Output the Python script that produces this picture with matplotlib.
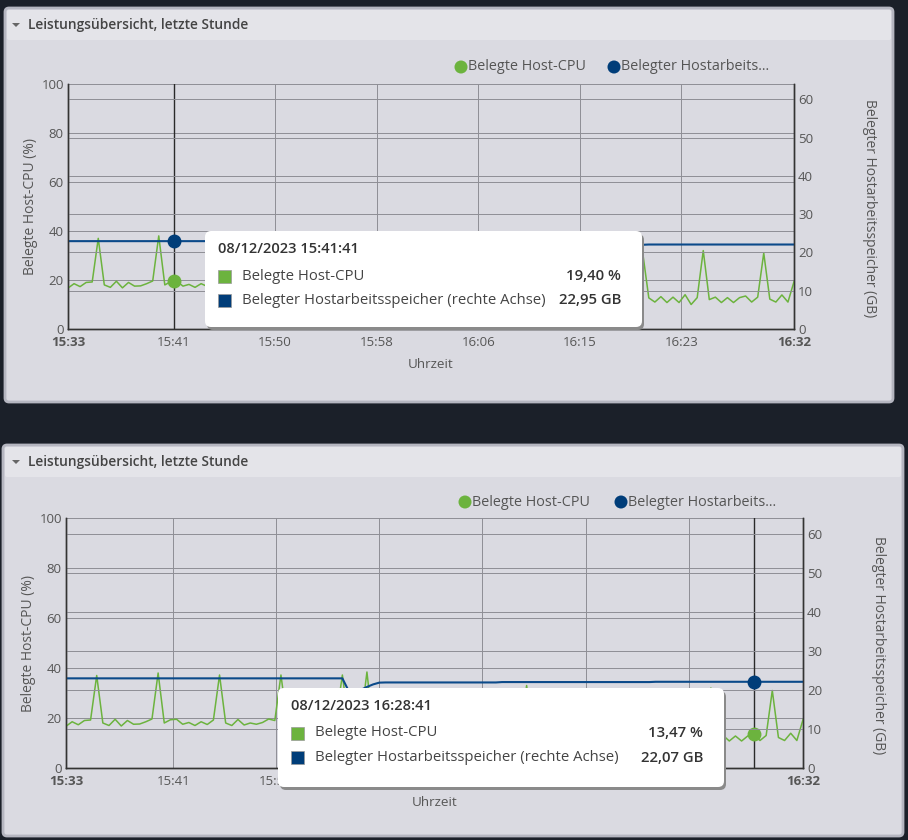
import numpy as np
import matplotlib.pyplot as plt
from matplotlib.patches import FancyBboxPatch, Rectangle, Circle, Polygon

# Data: last hour, one sample every 30 s (minutes since 15:32:41)
minutes = np.arange(0, 60.5, 0.5)

cpu_pct = [
    16.7, 18.5, 17.3, 19.0, 19.2, 37.0, 18.0, 17.0, 19.5, 16.8,
    19.0, 17.5, 17.6, 18.5, 19.6, 38.0, 18.0, 19.3, 19.5, 17.5,
    18.2, 17.0, 18.5, 17.4, 19.2, 37.2, 18.0, 17.0, 19.4, 17.2,
    18.0, 17.5, 18.2, 19.6, 19.0, 37.2, 18.5, 17.2, 18.6, 17.8,
    18.4, 17.5, 19.2, 18.0, 20.0, 37.2, 18.2, 17.0, 18.5, 38.4,
    16.0, 14.5, 13.5, 12.2, 13.8, 29.5, 12.5, 11.2, 13.4, 11.0,
    13.2, 11.5, 13.6, 10.8, 12.9, 30.0, 12.2, 13.1, 10.9, 12.8,
    11.3, 13.7, 10.6, 12.8, 13.2, 33.0, 12.0, 11.4, 13.5, 11.0,
    12.9, 10.9, 13.8, 11.2, 12.6, 30.5, 12.4, 11.0, 13.3, 10.8,
    13.0, 11.4, 13.9, 10.6, 12.8, 31.0, 12.7, 11.0, 13.2, 10.8,
    13.0, 10.8, 14.0, 10.0, 12.8, 32.0, 12.0, 13.0, 10.8, 12.8,
    10.8, 12.8, 13.47, 11.0, 13.0, 31.0, 12.2, 11.0, 13.9, 11.0,
    19.3,
]

mem_gb = [
    22.95, 22.95, 22.95, 22.95, 22.95, 22.95, 22.95, 22.95, 22.95, 22.95,
    22.95, 22.95, 22.95, 22.95, 22.95, 22.95, 22.95, 22.95, 22.95, 22.95,
    22.95, 22.95, 22.95, 22.95, 22.95, 22.95, 22.95, 22.95, 22.95, 22.95,
    22.95, 22.95, 22.95, 22.95, 22.95, 22.95, 22.95, 22.95, 22.95, 22.95,
    22.95, 22.95, 22.95, 22.95, 22.95, 22.95, 19.8, 19.6, 20.0, 20.75,
    21.4, 21.85, 21.9, 21.9, 21.9, 21.9, 21.9, 21.9, 21.9, 21.9,
    21.9, 21.9, 21.9, 21.9, 21.9, 21.9, 21.9, 21.9, 21.9, 21.9,
    21.9, 22.0, 22.0, 22.0, 22.0, 22.0, 22.0, 22.0, 22.0, 22.0,
    22.0, 22.0, 22.0, 22.0, 22.0, 22.0, 22.0, 22.0, 22.0, 22.0,
    22.0, 22.0, 22.0, 22.0, 22.0, 22.0, 22.07, 22.07, 22.07, 22.07,
    22.07, 22.07, 22.07, 22.07, 22.07, 22.07, 22.07, 22.07, 22.07, 22.07,
    22.07, 22.07, 22.07, 22.07, 22.07, 22.07, 22.07, 22.07, 22.07, 22.07,
    22.07,
]

x_ticks = [0, 8.75, 17.1, 25.5, 33.9, 42.3, 50.7, 60]
x_labels = ["15:33", "15:41", "15:50", "15:58", "16:06", "16:15", "16:23", "16:32"]

# hover points: (minute, cpu %, memory GB, tooltip time)
hover_top = (8.75, 19.40, 22.95, "08/12/2023 15:41:41")
hover_bottom = (56.0, 13.47, 22.07, "08/12/2023 16:28:41")

GREEN = "#6cb33e"
BLUE = "#0b4a8a"
DOT_BLUE = "#003d79"
GRID = "#8e8e95"
TXT = "#565656"

W, H = 908, 840
plt.rcParams["font.family"] = ["Open Sans", "DejaVu Sans"]
fig = plt.figure(figsize=(W / 100, H / 100), dpi=100, facecolor="#1b2029")
tr = fig.dpi_scale_trans


def P(x, y):
    # pixel position (from top left) -> inches
    return x / 100, (H - y) / 100


def rbox(x0, y0, x1, y1, fc, ec="none", lw=0, r=0.04, z=-10):
    p = FancyBboxPatch(P(x0, y1), (x1 - x0) / 100, (y1 - y0) / 100,
                       boxstyle=f"round,pad=0,rounding_size={r}",
                       fc=fc, ec=ec, lw=lw, transform=tr, zorder=z)
    fig.patches.append(p)


def text(x, y, s, **kw):
    kw.setdefault("color", TXT)
    kw.setdefault("va", "center")
    fig.text(*P(x, y), s, transform=tr, **kw)


def panel(px0, py0, px1, py1, ax_rect, legend_pos, tip, tip_box, xlab_y, ylab_x):
    # panel frame
    rbox(px0, py0, px1, py1, "#dadae1", "#b5b6c0", 2.0)
    rbox(px0 + 2, py0 + 2, px1 - 2, py0 + 32, "#e4e4e9", r=0.02, z=-9)
    fig.patches.append(Polygon([P(12, py0 + 15), P(20, py0 + 15), P(16, py0 + 19)],
                               closed=True, fc="#666", ec="none", transform=tr))
    text(28, py0 + 17, "Leistungsübersicht, letzte Stunde", fontsize=9.9,
         fontweight="semibold", color="#444")

    # legend
    gx, bx, ly = legend_pos
    for cx, col, lab in [(gx, GREEN, "Belegte Host-CPU"), (bx, DOT_BLUE, "Belegter Hostarbeits...")]:
        fig.patches.append(Circle(P(cx, ly), 0.065, fc=col, ec="none", transform=tr))
        text(cx + 7, ly, lab, fontsize=10.4, color="#555")

    ax0, ay0, ax1, ay1 = ax_rect
    ax = fig.add_axes([ax0 / W, 1 - ay1 / H, (ax1 - ax0) / W, (ay1 - ay0) / H])
    ax.set_facecolor("none")
    ax2 = ax.twinx()

    ax.plot(minutes, cpu_pct, color=GREEN, lw=1.1, zorder=3)
    ax2.plot(minutes, mem_gb, color=BLUE, lw=1.5, zorder=2)

    ax.set_xlim(0, 60)
    ax.set_ylim(0, 100)
    ax2.set_ylim(0, 64)
    ax.set_yticks([0, 20, 40, 60, 80, 100])
    ax2.set_yticks([0, 10, 20, 30, 40, 50, 60])
    ax.set_xticks(x_ticks)
    ax.set_xticklabels(x_labels)
    for i, lab in enumerate(ax.get_xticklabels()):
        if i in (0, len(x_labels) - 1):
            lab.set_fontweight("bold")
            lab.set_color("#333")

    ax.grid(True, color=GRID, lw=0.7)
    ax2.grid(True, axis="y", color=GRID, lw=0.7)
    ax.set_axisbelow(True)
    ax.tick_params(axis="y", length=0, labelsize=9.5, labelcolor=TXT, pad=3)
    ax.tick_params(axis="x", length=0, labelsize=9.5, labelcolor=TXT, pad=5)
    ax2.tick_params(length=0, labelsize=9.5, labelcolor=TXT, pad=3)
    for a in (ax, ax2):
        a.spines["top"].set_visible(False)
        for s in ("left", "right", "bottom"):
            a.spines[s].set_color("#333")
            a.spines[s].set_linewidth(1.0)

    text((ax0 + ax1) / 2, xlab_y, "Uhrzeit", fontsize=9.7, ha="center")
    text(ylab_x[0], (ay0 + ay1) / 2, "Belegte Host-CPU (%)", fontsize=10,
         ha="center", rotation=90)
    text(ylab_x[1], (ay0 + ay1) / 2 + 2, "Belegter Hostarbeitsspeicher (GB)", fontsize=10,
         ha="center", rotation=270)

    # crosshair + hover dots
    t, c, m, stamp = tip
    ax.axvline(t, color="#2a2a2a", lw=1.0, zorder=4)
    ax.plot([t], [c], "o", ms=9, color=GREEN, zorder=5, clip_on=False)
    ax2.plot([t], [m], "o", ms=9, color=DOT_BLUE, zorder=5, clip_on=False)

    # tooltip
    tx0, ty0, tx1, ty1 = tip_box
    rbox(tx0 + 2, ty0 + 3, tx1 + 2, ty1 + 3, "#8a8a8a", r=0.06, z=8)
    rbox(tx0, ty0, tx1, ty1, "white", r=0.06, z=9)
    lx = tx0 + 13
    text(lx, ty0 + 18, stamp, fontsize=10.6, fontweight="semibold", color="#333", zorder=10)
    rows = [(GREEN, "Belegte Host-CPU", f"{c:.2f} %".replace(".", ",")),
            (DOT_BLUE, "Belegter Hostarbeitsspeicher (rechte Achse)", f"{m:.2f} GB".replace(".", ","))]
    for k, (col, lab, val) in enumerate(rows):
        ry = ty0 + 45 + k * 24.5
        fig.patches.append(Rectangle(P(lx, ry + 6.5), 0.13, 0.13, fc=col, ec="#999",
                                     lw=0.5, transform=tr, zorder=10))
        text(lx + 24, ry, lab, fontsize=10.7, color="#444", zorder=10)
        text(tx1 - 21, ry, val, fontsize=10.7, fontweight="semibold", color="#333",
             ha="right", zorder=10)


panel(5, 8, 893, 402, (68, 84, 794, 329), (461, 614, 67),
      hover_top, (205, 231, 642, 327), 365, (31, 869))
panel(3, 445, 903, 836, (66, 518, 803, 768), (465, 621, 502),
      hover_bottom, (278, 688, 724, 787), 803, (29, 879))

fig.savefig("out.png", dpi=100, facecolor=fig.get_facecolor())
